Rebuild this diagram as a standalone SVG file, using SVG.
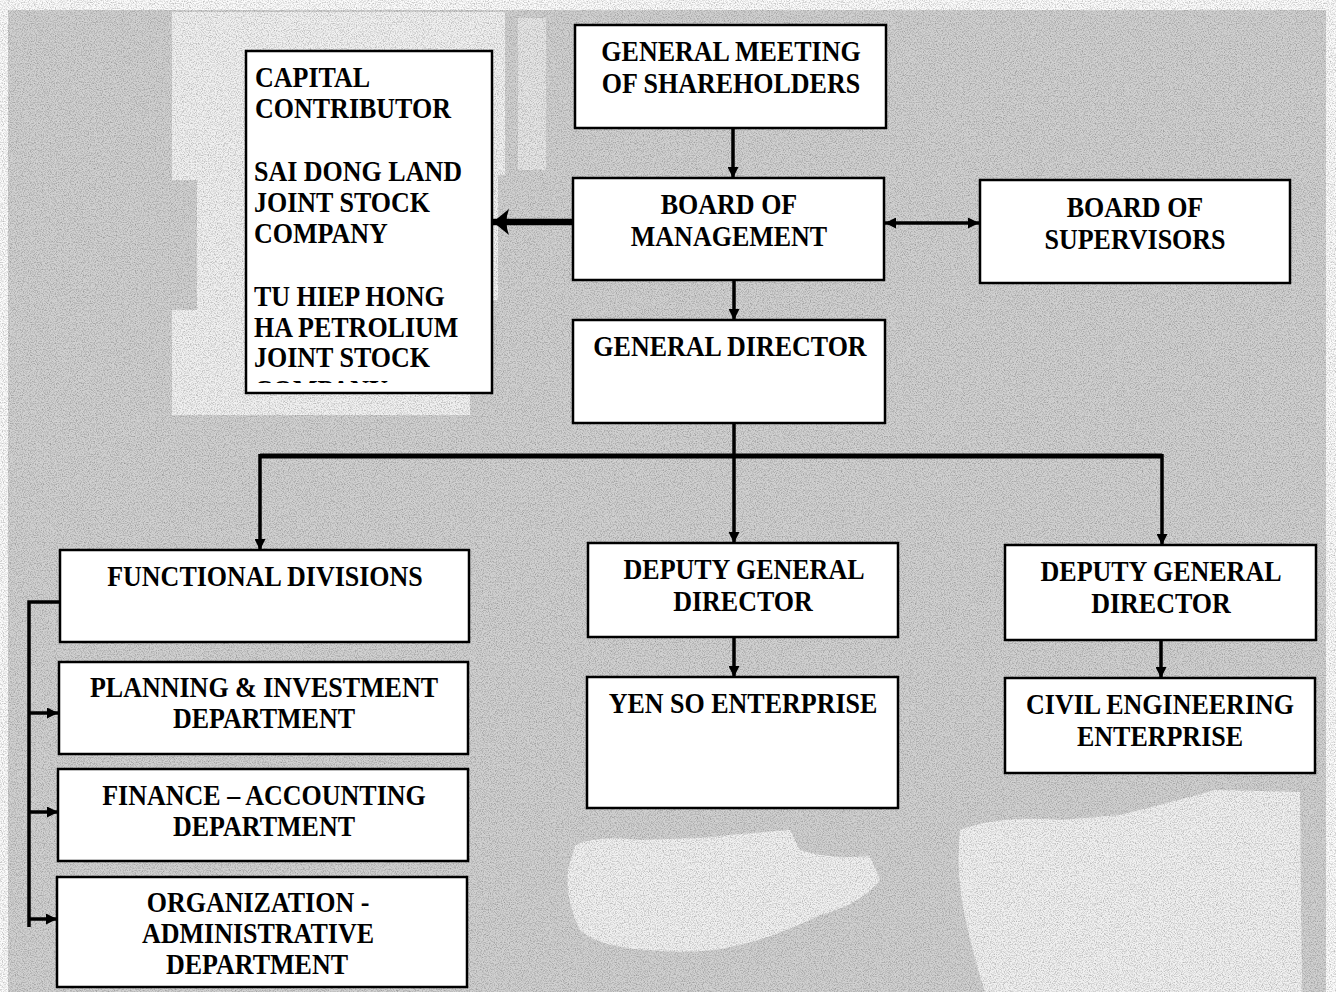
<svg xmlns="http://www.w3.org/2000/svg" width="1336" height="992" viewBox="0 0 1336 992">
  <defs>
    <style>
      .box { fill: #ffffff; stroke: #000000; stroke-width: 2.5; }
      .t { font-family: "Liberation Serif", "Times New Roman", serif; font-weight: bold; font-size: 26px; fill: #000000; text-anchor: middle; }
      .l { text-anchor: start; }
      .ln { fill: none; stroke: #000000; stroke-width: 3.5; }
      .bus { fill: none; stroke: #000000; stroke-width: 5; }
      .thick { fill: none; stroke: #000000; stroke-width: 6.5; }
      .paper { fill: #f1f1f1; }
    </style>
    <filter id="grain" x="0" y="0" width="100%" height="100%">
      <feTurbulence type="fractalNoise" baseFrequency="0.85" numOctaves="2" seed="7"/>
      <feColorMatrix type="matrix" values="0 0 0 0 0  0 0 0 0 0  0 0 0 0 0  0.6 0 0 0 -0.25"/>
    </filter>
    <marker id="arr" viewBox="0 0 10 10" refX="10" refY="5" markerWidth="11" markerHeight="11" markerUnits="userSpaceOnUse" orient="auto-start-reverse">
      <path d="M0 0 L10 5 L0 10 Z" fill="#000000"/>
    </marker>
    <marker id="arrBig" viewBox="0 0 16 26" refX="16" refY="13" markerWidth="16" markerHeight="26" markerUnits="userSpaceOnUse" orient="auto">
      <path d="M0 0 L16 13 L0 26 Q5 13 0 0 Z" fill="#000000"/>
    </marker>
    <clipPath id="capClip">
      <rect x="247" y="52" width="244" height="331"/>
    </clipPath>
  </defs>

  <!-- scanned page background -->
  <rect x="0" y="0" width="1336" height="992" fill="#fbfbfb"/>
  <rect x="8" y="10" width="1318" height="982" fill="#d1d1d1"/>
  <path class="paper" d="M172 12 H505 V175 H498 V300 H470 V415 H172 V310 H197 V180 H172 Z"/>
  <rect x="518" y="18" width="28" height="152" fill="#e6e6e6"/>
  <path class="paper" d="M575 845 Q600 835 640 840 L700 838 Q760 832 790 830 L800 850 Q830 860 870 856 L880 880 Q860 905 820 915 Q780 935 740 945 Q700 955 650 950 Q600 948 580 930 Q565 900 568 870 Z"/>
  <path class="paper" d="M960 830 Q1000 815 1060 820 L1120 815 Q1180 800 1215 790 L1300 792 L1302 992 H985 Q975 960 968 930 Q955 880 960 830 Z"/>
  <rect x="0" y="0" width="1336" height="992" filter="url(#grain)"/>

  <!-- connectors -->
  <g id="connectors">
    <line class="ln" x1="733" y1="128" x2="733" y2="178" marker-end="url(#arr)"/>
    <line class="ln" x1="734" y1="280" x2="734" y2="320" marker-end="url(#arr)"/>
    <line class="thick" x1="573" y1="222" x2="493" y2="222" marker-end="url(#arrBig)"/>
    <line class="ln" x1="885" y1="223" x2="979" y2="223" marker-start="url(#arr)" marker-end="url(#arr)"/>
    <line class="ln" x1="734" y1="423" x2="734" y2="543" marker-end="url(#arr)"/>
    <path class="bus" d="M260 456 H1162"/>
    <line class="ln" x1="260" y1="454" x2="260" y2="550" marker-end="url(#arr)"/>
    <line class="ln" x1="1162" y1="454" x2="1162" y2="545" marker-end="url(#arr)"/>
    <line class="ln" x1="734" y1="637" x2="734" y2="677" marker-end="url(#arr)"/>
    <line class="ln" x1="1161" y1="640" x2="1161" y2="678" marker-end="url(#arr)"/>
    <path class="ln" d="M59 602 H29 V927"/>
    <line class="ln" x1="28" y1="713" x2="58" y2="713" marker-end="url(#arr)"/>
    <line class="ln" x1="28" y1="812" x2="58" y2="812" marker-end="url(#arr)"/>
    <line class="ln" x1="28" y1="919" x2="57" y2="919" marker-end="url(#arr)"/>
  </g>

  <!-- nodes -->
  <g id="general-meeting">
    <rect class="box" x="575" y="25" width="311" height="103"/>
    <text class="t" transform="translate(731 61) scale(1 1.1)">GENERAL MEETING</text>
    <text class="t" transform="translate(731 93) scale(1 1.1)">OF SHAREHOLDERS</text>
  </g>

  <g id="capital-contributor">
    <rect class="box" x="246" y="51" width="246" height="342"/>
    <g clip-path="url(#capClip)">
      <text class="t l" transform="translate(255 87) scale(1 1.1)">CAPITAL</text>
      <text class="t l" transform="translate(255 118) scale(1 1.1)">CONTRIBUTOR</text>
      <text class="t l" transform="translate(254 181) scale(1 1.1)">SAI DONG LAND</text>
      <text class="t l" transform="translate(254 212) scale(1 1.1)">JOINT STOCK</text>
      <text class="t l" transform="translate(254 243) scale(1 1.1)">COMPANY</text>
      <text class="t l" transform="translate(254 306) scale(1 1.1)">TU HIEP HONG</text>
      <text class="t l" transform="translate(254 337) scale(1 1.1)">HA PETROLIUM</text>
      <text class="t l" transform="translate(254 367) scale(1 1.1)">JOINT STOCK</text>
      <text class="t l" transform="translate(254 400) scale(1 1.1)">COMPANY</text>
    </g>
  </g>

  <g id="board-of-management">
    <rect class="box" x="573" y="178" width="311" height="102"/>
    <text class="t" transform="translate(729 214) scale(1 1.1)">BOARD OF</text>
    <text class="t" transform="translate(729 246) scale(1 1.1)">MANAGEMENT</text>
  </g>

  <g id="board-of-supervisors">
    <rect class="box" x="980" y="180" width="310" height="103"/>
    <text class="t" transform="translate(1135 217) scale(1 1.1)">BOARD OF</text>
    <text class="t" transform="translate(1135 249) scale(1 1.1)">SUPERVISORS</text>
  </g>

  <g id="general-director">
    <rect class="box" x="573" y="320" width="312" height="103"/>
    <text class="t" transform="translate(730 356) scale(1 1.1)">GENERAL DIRECTOR</text>
  </g>

  <g id="functional-divisions">
    <rect class="box" x="60" y="550" width="409" height="92"/>
    <text class="t" transform="translate(265 586) scale(1 1.1)">FUNCTIONAL DIVISIONS</text>
  </g>

  <g id="planning-investment">
    <rect class="box" x="59" y="662" width="409" height="92"/>
    <text class="t" transform="translate(264 697) scale(1 1.1)">PLANNING &amp; INVESTMENT</text>
    <text class="t" transform="translate(264 728) scale(1 1.1)">DEPARTMENT</text>
  </g>

  <g id="finance-accounting">
    <rect class="box" x="58" y="769" width="410" height="92"/>
    <text class="t" transform="translate(264 805) scale(1 1.1)">FINANCE – ACCOUNTING</text>
    <text class="t" transform="translate(264 836) scale(1 1.1)">DEPARTMENT</text>
  </g>

  <g id="organization-administrative">
    <rect class="box" x="57" y="877" width="410" height="110"/>
    <text class="t" transform="translate(258 912) scale(1 1.1)">ORGANIZATION -</text>
    <text class="t" transform="translate(258 943) scale(1 1.1)">ADMINISTRATIVE</text>
    <text class="t" transform="translate(257 974) scale(1 1.1)">DEPARTMENT</text>
  </g>

  <g id="deputy-director-1">
    <rect class="box" x="588" y="543" width="310" height="94"/>
    <text class="t" transform="translate(744 579) scale(1 1.1)">DEPUTY GENERAL</text>
    <text class="t" transform="translate(743 611) scale(1 1.1)">DIRECTOR</text>
  </g>

  <g id="yen-so-enterprise">
    <rect class="box" x="587" y="677" width="311" height="131"/>
    <text class="t" transform="translate(743 713) scale(1 1.1)">YEN SO ENTERPRISE</text>
  </g>

  <g id="deputy-director-2">
    <rect class="box" x="1005" y="545" width="311" height="95"/>
    <text class="t" transform="translate(1161 581) scale(1 1.1)">DEPUTY GENERAL</text>
    <text class="t" transform="translate(1161 613) scale(1 1.1)">DIRECTOR</text>
  </g>

  <g id="civil-engineering-enterprise">
    <rect class="box" x="1005" y="678" width="310" height="95"/>
    <text class="t" transform="translate(1160 714) scale(1 1.1)">CIVIL ENGINEERING</text>
    <text class="t" transform="translate(1160 746) scale(1 1.1)">ENTERPRISE</text>
  </g>
</svg>
